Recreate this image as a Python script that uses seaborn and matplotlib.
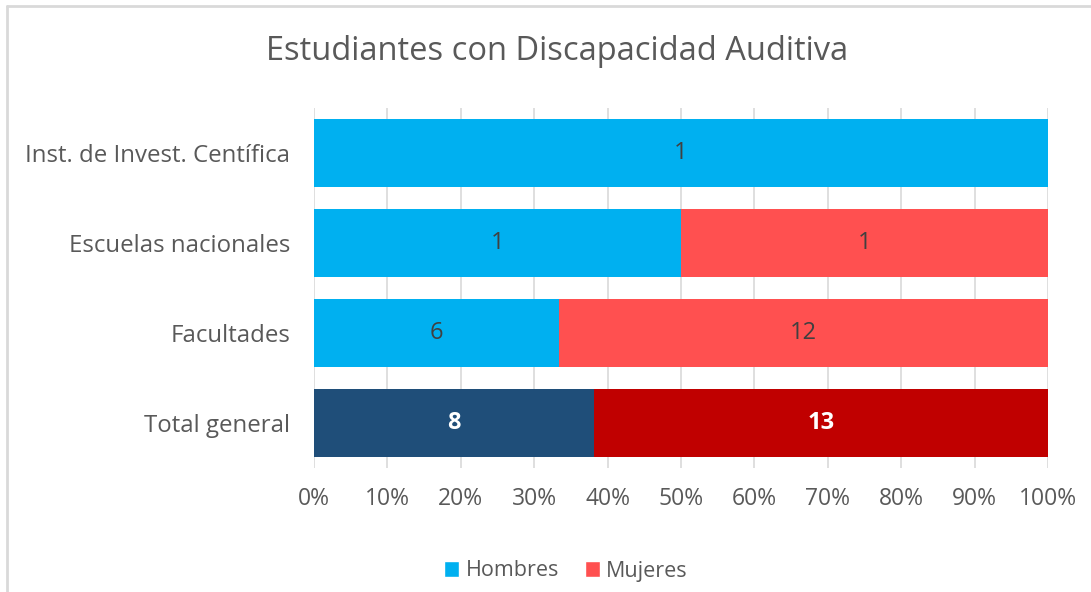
import matplotlib
matplotlib.use("Agg")
import matplotlib.pyplot as plt
import seaborn as sns
import numpy as np
import pandas as pd
from matplotlib.patches import Patch
from matplotlib.lines import Line2D

categories = ["Inst. de Invest. Centífica", "Escuelas nacionales", "Facultades", "Total general"]
hombres = [1, 1, 6, 8]
mujeres = [0, 1, 12, 13]
series_names = ["Hombres", "Mujeres"]
hombres_colors = ["#00B0F0", "#00B0F0", "#00B0F0", "#1F4E79"]
mujeres_colors = ["#FF5050", "#FF5050", "#FF5050", "#C00000"]
xticks = [0, 10, 20, 30, 40, 50, 60, 70, 80, 90, 100]
title = "Estudiantes con Discapacidad Auditiva"

sns.set_theme(style="white")
plt.rcParams['font.family'] = ['Open Sans', 'DejaVu Sans']

tot = np.array(hombres) + np.array(mujeres)
h_pct = np.array(hombres) / tot * 100
m_pct = np.array(mujeres) / tot * 100
df = pd.DataFrame({"cat": categories, "h": h_pct, "hm": h_pct + m_pct})

fig = plt.figure(figsize=(10.91, 5.92), dpi=100)
ax = fig.add_axes([314/1091, 124/592, 734/1091, 360/592])

sns.barplot(data=df, x="hm", y="cat", hue="cat", palette=mujeres_colors, legend=False,
            width=0.76, ax=ax, saturation=1, order=categories, hue_order=categories,
            linewidth=0)
sns.barplot(data=df, x="h", y="cat", hue="cat", palette=hombres_colors, legend=False,
            width=0.76, ax=ax, saturation=1, order=categories, hue_order=categories,
            linewidth=0)

ax.set_xlim(0, 100)
ax.set_ylim(3.5, -0.5)
ax.set_xticks(xticks)
ax.set_xticklabels([f"{t}%" for t in xticks])
ax.set_xlabel("")
ax.set_ylabel("")
for s in ax.spines.values():
    s.set_visible(False)
ax.set_axisbelow(True)
ax.grid(axis="x", color="#D9D9D9", linewidth=1.2)
ax.grid(axis="y", visible=False)
ax.tick_params(axis="both", length=0, labelcolor="#595959")
ax.tick_params(axis="x", pad=14, labelsize=16.5)
ax.tick_params(axis="y", pad=17, labelsize=17.3)

for i in range(len(categories)):
    last = i == len(categories) - 1
    color = "white" if last else "#404040"
    weight = "bold" if last else "normal"
    if hombres[i] > 0:
        ax.text(h_pct[i] / 2, i, str(hombres[i]), ha="center", va="center",
                fontsize=17, color=color, fontweight=weight)
    if mujeres[i] > 0:
        ax.text(h_pct[i] + m_pct[i] / 2, i, str(mujeres[i]), ha="center", va="center",
                fontsize=17, color=color, fontweight=weight)

fig.text(557/1091, 1 - 51/592, title, ha="center", va="center", fontsize=23.5, color="#595959")

handles = [Patch(facecolor="#00B0F0", label=series_names[0]),
           Patch(facecolor="#FF5050", label=series_names[1])]
leg = fig.legend(handles=handles, loc="center", bbox_to_anchor=(566/1091, 1 - 571/592),
                 ncol=2, frameon=False, fontsize=15.5, handlelength=0.7, handleheight=0.7,
                 handletextpad=0.3, columnspacing=1.2, labelcolor="#595959")

fig.add_artist(Line2D([7/1091, 7/1091], [0, 1 - 6/592], transform=fig.transFigure,
                      color="#D9D9D9", linewidth=2))
fig.add_artist(Line2D([7/1091, 1], [1 - 6/592, 1 - 6/592], transform=fig.transFigure,
                      color="#D9D9D9", linewidth=2))

fig.savefig("out.png", dpi=100)
